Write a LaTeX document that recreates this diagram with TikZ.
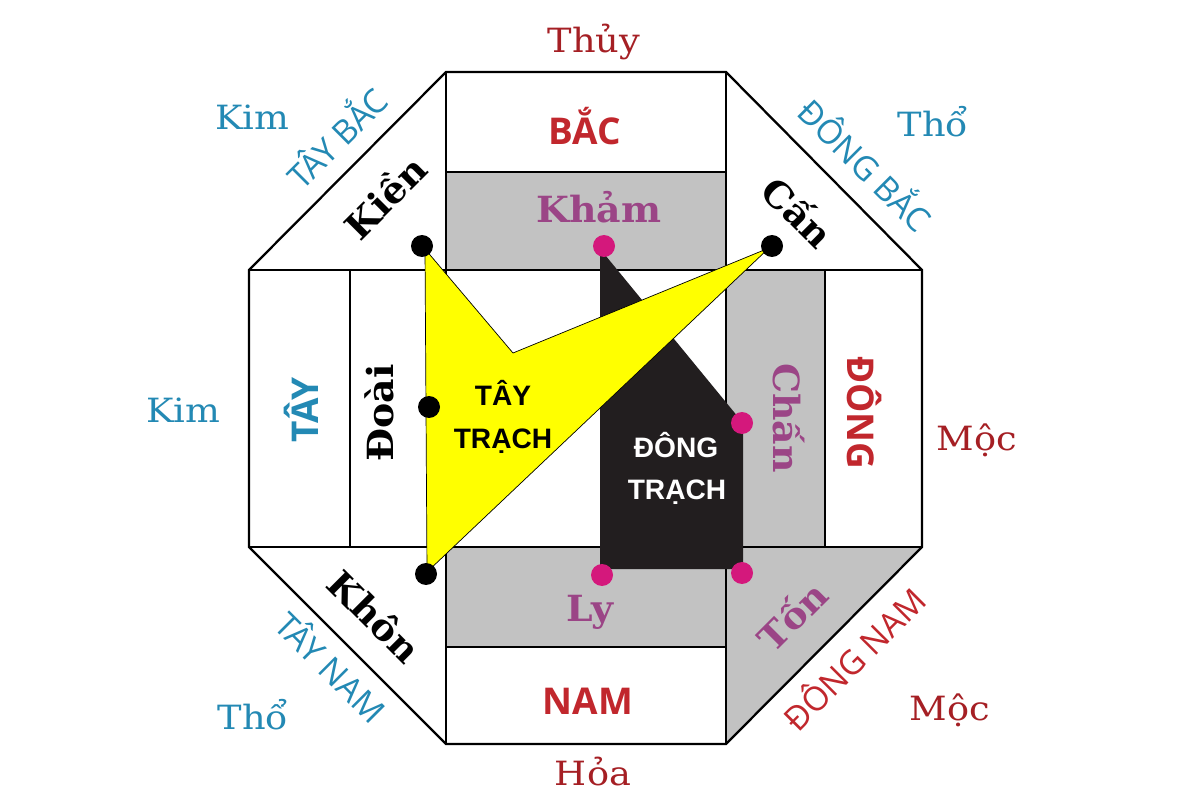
\documentclass[tikz,border=0pt]{standalone}
\usepackage{fontspec}
\usepackage{graphicx}
\setmainfont{DejaVu Serif}
\newfontfamily\osans{Open Sans}
\newfontfamily\lsans{Liberation Sans}
\definecolor{elemred}{HTML}{A51F24}
\definecolor{dirred}{HTML}{C1272D}
\definecolor{teal}{HTML}{2389B4}
\definecolor{guapurple}{HTML}{9B4586}
\definecolor{dotmag}{HTML}{D4187C}
\definecolor{bandgray}{HTML}{C2C2C2}
\definecolor{shapeblack}{HTML}{221E1F}
\definecolor{shapeyellow}{HTML}{FFFF00}
\newcommand{\wx}[1]{\scalebox{1.1}[1]{#1}}
\newcommand{\wg}[1]{\scalebox{1.05}[1]{#1}}
\begin{document}
\begin{tikzpicture}[x=0.02cm,y=-0.02cm,
  elem/.style={font=\fontsize{19}{22}\selectfont, inner sep=0pt, text height=13.8pt, text depth=0pt},
  gua/.style={font=\bfseries\fontsize{20.5}{24}\selectfont, inner sep=0pt, text height=14.9pt, text depth=0pt},
  dirname/.style={font=\osans\bfseries\fontsize{21}{24}\selectfont, inner sep=0pt, text height=15pt, text depth=0pt},
  diag/.style={font=\osans\fontsize{19}{22}\selectfont, inner sep=0pt, text height=13.6pt, text depth=0pt},
  trach/.style={font=\lsans\bfseries\fontsize{16}{18}\selectfont, inner sep=0pt, text height=11.5pt, text depth=0pt},
  wall/.style={line width=1.3pt},
  bdot/.style={circle, fill=black, inner sep=0pt, minimum size=0.44cm},
  mdot/.style={circle, fill=dotmag, inner sep=0pt, minimum size=0.44cm}
]
\useasboundingbox (0,0) rectangle (1200,800);
\fill[white] (0,0) rectangle (1200,800);
% gray bands
\fill[bandgray] (446,172) rectangle (726,270);
\fill[bandgray] (726,270) rectangle (825,547);
\fill[bandgray] (446,547) rectangle (726,647);
\fill[bandgray] (726,547) -- (922,547) -- (726,744) -- cycle;
% structure
\draw[wall] (446,72) -- (726,72) -- (922,270) -- (922,547) -- (726,744) -- (446,744) -- (249,547) -- (249,270) -- cycle;
\draw[wall] (249,270) -- (922,270);
\draw[wall] (249,547) -- (922,547);
\draw[wall] (446,72) -- (446,744);
\draw[wall] (726,72) -- (726,744);
\draw[wall] (446,172) -- (726,172);
\draw[wall] (446,647) -- (726,647);
\draw[wall] (350,270) -- (350,547);
\draw[wall] (825,270) -- (825,547);
% dong trach shape
\fill[shapeblack] (601,250) -- (743,423) -- (743,569) -- (600,569) -- (600,252) -- cycle;
% tay trach shape
\filldraw[fill=shapeyellow, draw=black, line width=0.4pt] (425,249) -- (513,353) -- (769,248) -- (427,572) -- cycle;
% dots
\node[bdot] (kien) at (422,246) {};
\node[bdot] (can) at (772,246) {};
\node[bdot] (doai) at (429,407) {};
\node[bdot] (khon) at (426,574) {};
\node[mdot] (kham) at (604,246) {};
\node[mdot] (chan) at (742,423) {};
\node[mdot] (ly) at (602,575) {};
\node[mdot] (ton) at (742,573) {};
% elements
\node[elem, text=elemred] (thuy) at (594,40) {\wx{Thủy}};
\node[elem, text=elemred] (hoa) at (593,773) {\wx{Hỏa}};
\node[elem, text=elemred] (moc1) at (977,438) {\wx{Mộc}};
\node[elem, text=elemred] (moc2) at (950,708) {\wx{Mộc}};
\node[elem, text=teal] (kim1) at (252,117) {\wx{Kim}};
\node[elem, text=teal] (kim2) at (183,410) {\wx{Kim}};
\node[elem, text=teal] (tho1) at (933,124) {\wx{Thổ}};
\node[elem, text=teal] (tho2) at (253,717) {\wx{Thổ}};
% directions
\node[dirname, text=dirred] (bac) at (585,131) {BẮC};
\node[dirname, text=dirred] (nam) at (588,701) {NAM};
\node[dirname, text=dirred, rotate=-90] (dong) at (861,413) {ĐÔNG};
\node[dirname, text=teal, rotate=90] (tay) at (305,410) {TÂY};
\node[diag, text=teal, rotate=45] (taybac) at (338,139) {TÂY BẮC};
\node[diag, text=teal, rotate=-45] (dongbac) at (864,166) {ĐÔNG BẮC};
\node[diag, text=teal, rotate=-45] (taynam) at (330,668) {TÂY NAM};
\node[diag, text=dirred, rotate=45] (dongnam) at (855,660) {ĐÔNG NAM};
% gua names
\node[gua, text=guapurple] (tkham) at (599,209) {\wg{Khảm}};
\node[gua, text=guapurple] (tly) at (590,608) {\wg{Ly}};
\node[gua, text=guapurple, rotate=-90] (tchan) at (787,418) {\wg{Chấn}};
\node[gua, text=guapurple, rotate=45] (tton) at (793,617) {\wg{Tốn}};
\node[gua, text=black, rotate=45] (tkien) at (386,198) {\wg{Kiền}};
\node[gua, text=black, rotate=-45] (tcan) at (797,213) {\wg{Cấn}};
\node[gua, text=black, rotate=90] (tdoai) at (380,413) {\wg{Đoài}};
\node[gua, text=black, rotate=-45] (tkhon) at (374,617) {\wg{Khôn}};
% trach labels
\node[trach, text=black] (tt1) at (503,395) {TÂY};
\node[trach, text=black] (tt2) at (503,438) {TRẠCH};
\node[trach, text=white] (dt1) at (676,447) {ĐÔNG};
\node[trach, text=white] (dt2) at (677,489) {TRẠCH};
\end{tikzpicture}
\end{document}
